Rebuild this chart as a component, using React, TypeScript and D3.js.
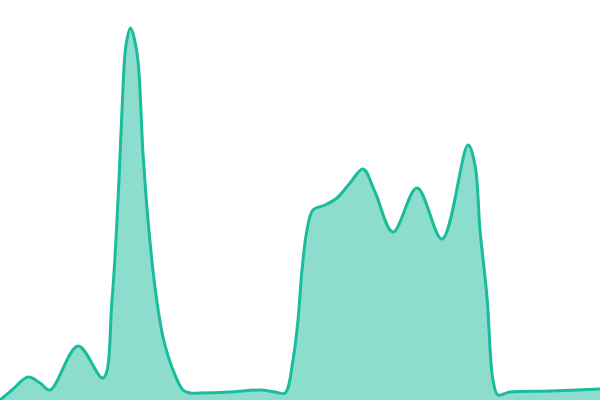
import * as d3 from "d3";
import React from "react";

const times = [
  0, 2.4, 5.6, 8, 10, 15.6, 20.6, 22.4, 23.6, 24.4, 25.2, 26.1, 27.4, 28.6,
  29.6, 31, 32.6, 34.6, 36.6, 38, 40, 46, 52.4, 55, 57, 58.6, 59.6, 60.4, 61.4,
  62.6, 65, 67.4, 70, 72.6, 75, 78.6, 83.4, 88.4, 93.6, 95, 96, 97.4, 98.6,
  99.6, 102, 110, 120,
];
const levels = [
  0, 2.5, 5.75, 4.25, 2.5, 13.5, 5.5, 25, 50, 72.5, 88.75, 93, 86.75, 61.75,
  45, 28.25, 15.75, 7.5, 2.5, 1.75, 1.75, 2, 2.5, 2, 1.75, 10, 20, 32.5, 42.5,
  47.5, 48.75, 50.5, 54.25, 57.75, 52, 42, 53, 40.25, 63.75, 58.75, 42.5, 25.75,
  5, 1.25, 2, 2.25, 2.75,
];

const width = 600;
const height = 400;

export default function App() {
  const data = times.map((t, i) => ({ t, v: levels[i] }));

  const x = d3.scaleLinear().domain([0, 120]).range([0, width]);
  const y = d3.scaleLinear().domain([0, 100]).range([height, 0]);

  const curve = d3.curveCatmullRom.alpha(0.5);

  const area = d3
    .area<{ t: number; v: number }>()
    .curve(curve)
    .x((d) => x(d.t))
    .y0(y(0))
    .y1((d) => y(d.v));

  const line = d3
    .line<{ t: number; v: number }>()
    .curve(curve)
    .x((d) => x(d.t))
    .y((d) => y(d.v));

  return (
    <svg
      width={width}
      height={height}
      style={{ position: "absolute", left: 0, top: 0, background: "#fff" }}
    >
      <path d={area(data) || ""} fill="#1abc9c" fillOpacity={0.5} stroke="none" />
      <path
        d={line(data) || ""}
        fill="none"
        stroke="#1abc9c"
        strokeWidth={3}
        strokeLinejoin="round"
      />
    </svg>
  );
}
